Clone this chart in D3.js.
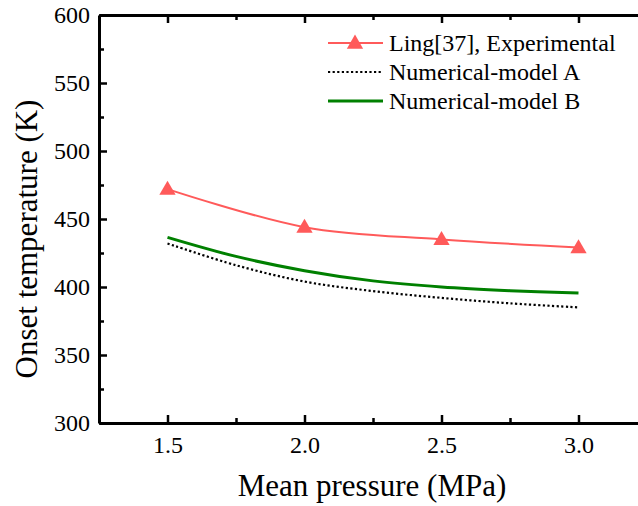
<!DOCTYPE html>
<html>
<head>
<meta charset="utf-8">
<script src="https://cdn.jsdelivr.net/npm/d3@7"></script>
<style>
	body { margin: 0; background: #fff; }
	svg { display: block; }
	svg text { font-family: "Liberation Serif", "Times New Roman", serif; }
</style>
</head>
<body>
<div id="chart"></div>
<script>
// pressure values (MPa) and onset temperatures (K)
const expPressure = [1.5, 2.0, 2.5, 3.0];
const expTemp = [472, 444, 435, 429];

const modelPressure = [1.5, 1.75, 2.0, 2.25, 2.5, 2.75, 3.0];
const modelA = [432, 416, 404, 397, 392, 388, 385];
const modelB = [436.5, 422.5, 412, 404.5, 400, 397.3, 395.5];

const xTicks = [1.5, 2.0, 2.5, 3.0];
const xMinor = [1.75, 2.25, 2.75, 3.25];
const yTicks = [300, 350, 400, 450, 500, 550, 600];
const yMinor = [325, 375, 425, 475, 525, 575];

const legendLabels = ['Ling[37], Experimental', 'Numerical-model A', 'Numerical-model B'];

const width = 638;
const height = 506;
const plotLeft = 99;
const plotTop = 15;
const plotBottom = 423;

const x = d3.scaleLinear().domain([1.25, 3.25]).range([plotLeft, plotLeft + 548]);
const y = d3.scaleLinear().domain([300, 600]).range([plotBottom, plotTop]);

const svg = d3.select('#chart')
	.append('svg')
	.attr('width', width)
	.attr('height', height);

const line = d3.line()
	.x((d) => x(d[0]))
	.y((d) => y(d[1]))
	.curve(d3.curveCatmullRom.alpha(0.5));

const zip = (xs, ys) => xs.map((v, i) => [v, ys[i]]);

// Model A, dotted black
svg.append('path')
	.datum(zip(modelPressure, modelA))
	.attr('fill', 'none')
	.attr('stroke', '#000')
	.attr('stroke-width', 2.2)
	.attr('stroke-dasharray', '2.2,2.4')
	.attr('d', line);

// Model B, green
svg.append('path')
	.datum(zip(modelPressure, modelB))
	.attr('fill', 'none')
	.attr('stroke', '#008000')
	.attr('stroke-width', 3)
	.attr('d', line);

// Experimental, red with triangles
svg.append('path')
	.datum(zip(expPressure, expTemp))
	.attr('fill', 'none')
	.attr('stroke', '#ff5a5a')
	.attr('stroke-width', 2)
	.attr('d', line);

const tri = d3.symbol().type(d3.symbolTriangle).size(115);
svg.selectAll('path.marker')
	.data(zip(expPressure, expTemp))
	.join('path')
	.attr('class', 'marker')
	.attr('transform', (d) => `translate(${x(d[0])},${y(d[1]) + 1})`)
	.attr('fill', '#ff5a5a')
	.attr('d', tri);

// Axes, ticks inside the frame
const styleAxis = (g, labelSize) => {
	g.attr('font-family', null).attr('font-size', labelSize);
	g.selectAll('line').attr('stroke-width', 2.5);
	g.select('.domain').attr('stroke-width', 3);
};

const bottomAxis = svg.append('g')
	.attr('transform', `translate(0,${plotBottom})`)
	.call(d3.axisBottom(x).tickValues(xTicks).tickSize(-8).tickSizeOuter(0)
		.tickFormat(d3.format('.1f')));
styleAxis(bottomAxis, 24);
bottomAxis.selectAll('text').attr('y', 13);

svg.append('g')
	.attr('transform', `translate(0,${plotBottom})`)
	.call(d3.axisBottom(x).tickValues(xMinor).tickSize(-5).tickFormat(''))
	.call((g) => g.select('.domain').remove())
	.call((g) => g.selectAll('line').attr('stroke-width', 2.5));

const topAxis = svg.append('g')
	.attr('transform', `translate(0,${plotTop})`)
	.call(d3.axisTop(x).tickValues(xTicks).tickSize(-8).tickSizeOuter(0).tickFormat(''));
styleAxis(topAxis, 24);

svg.append('g')
	.attr('transform', `translate(0,${plotTop})`)
	.call(d3.axisTop(x).tickValues(xMinor).tickSize(-5).tickFormat(''))
	.call((g) => g.select('.domain').remove())
	.call((g) => g.selectAll('line').attr('stroke-width', 2.5));

const leftAxis = svg.append('g')
	.attr('transform', `translate(${plotLeft},0)`)
	.call(d3.axisLeft(y).tickValues(yTicks).tickSize(-8).tickSizeOuter(0));
styleAxis(leftAxis, 24);
leftAxis.selectAll('text').attr('x', -9);

svg.append('g')
	.attr('transform', `translate(${plotLeft},0)`)
	.call(d3.axisLeft(y).tickValues(yMinor).tickSize(-5).tickFormat(''))
	.call((g) => g.select('.domain').remove())
	.call((g) => g.selectAll('line').attr('stroke-width', 2.5));

// Axis titles
svg.append('text')
	.attr('x', 372)
	.attr('y', 496)
	.attr('text-anchor', 'middle')
	.attr('font-size', 31)
	.text('Mean pressure (MPa)');

svg.append('text')
	.attr('transform', `translate(37,${(plotBottom + plotTop) / 2 + 20}) rotate(-90)`)
	.attr('text-anchor', 'middle')
	.attr('font-size', 31)
	.text('Onset temperature (K)');

// Legend
const legend = svg.append('g');
const legendY = [43, 72, 101];

legend.selectAll('text')
	.data(legendLabels)
	.join('text')
	.attr('x', 389)
	.attr('y', (d, i) => legendY[i] + 8)
	.attr('font-size', 24)
	.text((d) => d);

legend.append('line')
	.attr('x1', 328).attr('x2', 383)
	.attr('y1', legendY[0]).attr('y2', legendY[0])
	.attr('stroke', '#ff5a5a').attr('stroke-width', 2);
legend.append('path')
	.attr('transform', `translate(355,${legendY[0] + 1})`)
	.attr('fill', '#ff5a5a')
	.attr('d', tri);
legend.append('line')
	.attr('x1', 328).attr('x2', 383)
	.attr('y1', legendY[1]).attr('y2', legendY[1])
	.attr('stroke', '#000').attr('stroke-width', 2.2)
	.attr('stroke-dasharray', '2.2,2.4');
legend.append('line')
	.attr('x1', 328).attr('x2', 383)
	.attr('y1', legendY[2]).attr('y2', legendY[2])
	.attr('stroke', '#008000').attr('stroke-width', 3);
</script>
</body>
</html>
